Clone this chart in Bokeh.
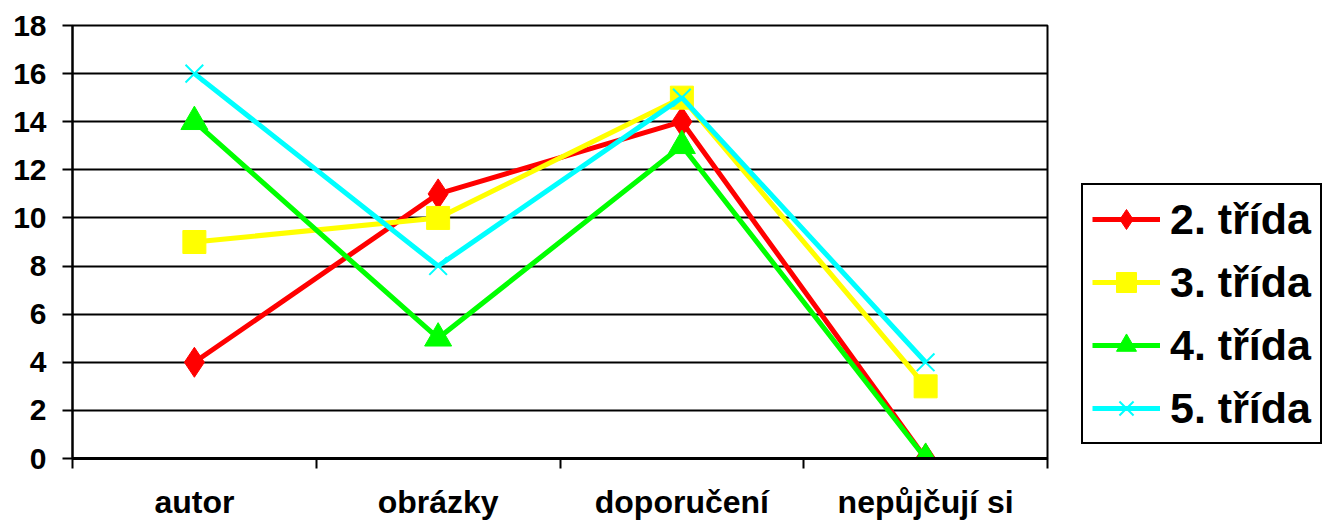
from bokeh.plotting import figure
from bokeh.layouts import row
from bokeh.models import FixedTicker, Legend, LegendItem
from bokeh.embed import file_html
from bokeh.resources import INLINE

categories = ["autor", "obrázky", "doporučení", "nepůjčují si"]
series_names = ["2. třída", "3. třída", "4. třída", "5. třída"]
trida2 = [4, 11, 14, 0]
trida3 = [9, 10, 15, 3]
trida4 = [14, 5, 13, 0]
trida5 = [16, 8, 15, 4]
y_ticks = [0, 2, 4, 6, 8, 10, 12, 14, 16, 18]

FONT = "Liberation Sans"

xs = [i + 0.5 for i in range(len(categories))]

p = figure(width=1060, height=522, output_backend="svg", toolbar_location=None,
           x_range=(0, len(categories)), y_range=(0, 18),
           min_border_left=72, min_border_right=13, min_border_top=25, min_border_bottom=64)
p.background_fill_color = "white"
p.border_fill_color = "white"
p.outline_line_color = "black"
p.outline_line_width = 2

# x axis
p.xaxis.ticker = FixedTicker(ticks=xs, minor_ticks=list(range(len(categories) + 1)))
p.xaxis.major_label_overrides = {x: c for x, c in zip(xs, categories)}
p.xaxis.major_tick_line_color = None
p.xaxis.major_tick_out = 0
p.xaxis.major_tick_in = 0
p.xaxis.minor_tick_out = 10
p.xaxis.minor_tick_in = 0
p.xaxis.minor_tick_line_color = "black"
p.xaxis.minor_tick_line_width = 2
p.xaxis.axis_line_width = 3
p.xaxis.axis_line_color = "black"
p.xaxis.major_label_standoff = 15
p.xaxis.major_label_text_font = FONT
p.xaxis.major_label_text_font_style = "bold"
p.xaxis.major_label_text_font_size = "32px"
p.xaxis.major_label_text_color = "black"

# y axis
p.yaxis.ticker = FixedTicker(ticks=y_ticks)
p.yaxis.major_tick_out = 10
p.yaxis.major_tick_in = 0
p.yaxis.major_tick_line_width = 2
p.yaxis.major_tick_line_color = "black"
p.yaxis.minor_tick_line_color = None
p.yaxis.axis_line_width = 2
p.yaxis.axis_line_color = "black"
p.yaxis.major_label_standoff = 16
p.yaxis.major_label_text_font = FONT
p.yaxis.major_label_text_font_style = "bold"
p.yaxis.major_label_text_font_size = "30px"
p.yaxis.major_label_text_color = "black"

p.xgrid.grid_line_color = None
p.ygrid.ticker = FixedTicker(ticks=y_ticks)
p.ygrid.grid_line_color = "black"
p.ygrid.grid_line_width = 2
p.ygrid.grid_line_alpha = 1

# legend-only figure on the right
pl = figure(width=266, height=522, output_backend="svg", toolbar_location=None,
            x_range=(100, 101), y_range=(100, 101),
            x_axis_location=None, y_axis_location=None,
            min_border_left=0, min_border_right=0, min_border_top=0, min_border_bottom=0)
pl.outline_line_color = None
pl.xgrid.visible = False
pl.ygrid.visible = False
pl.background_fill_color = "white"
pl.border_fill_color = "white"

lw = 5
specs = [
    (series_names[0], trida2, "red", "diamond", 30),
    (series_names[1], trida3, "yellow", "square", 23),
    (series_names[2], trida4, "lime", "triangle", 27),
    (series_names[3], trida5, "cyan", "x", 25),
]

items = []
for name, vals, color, marker, size in specs:
    p.line(xs, vals, line_color=color, line_width=lw)
    if marker == "x":
        p.scatter(xs, vals, marker=marker, size=size, line_color=color, line_width=2)
    else:
        p.scatter(xs, vals, marker=marker, size=size, fill_color=color, line_color=color)
    # legend proxies (outside the legend figure's visible range)
    lr = pl.line(xs, vals, line_color=color, line_width=lw)
    if marker == "x":
        lm = pl.scatter(xs, vals, marker=marker, size=size, line_color=color, line_width=2)
    else:
        lm = pl.scatter(xs, vals, marker=marker, size=size, fill_color=color, line_color=color)
    items.append(LegendItem(label=name, renderers=[lr, lm]))

legend = Legend(items=items, location=(21, 14))
legend.label_text_font = FONT
legend.label_text_font_style = "bold"
legend.label_text_font_size = "43px"
legend.label_text_color = "black"
legend.glyph_width = 68
legend.glyph_height = 50
legend.label_height = 50
legend.label_standoff = 10
legend.spacing = 13
legend.padding = 9
legend.margin = 0
legend.border_line_color = "black"
legend.border_line_width = 2
legend.border_line_alpha = 1
legend.background_fill_color = "white"
legend.background_fill_alpha = 1
pl.add_layout(legend, "center")

layout = row(p, pl, spacing=0)
open("out.html", "w").write(file_html(layout, INLINE))
